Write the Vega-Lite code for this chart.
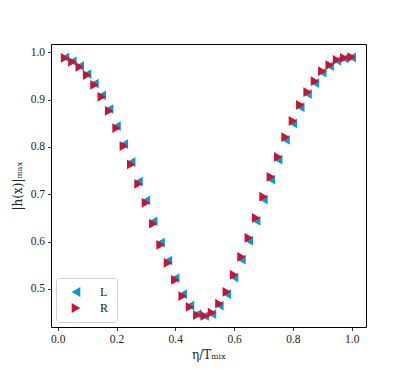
{
  "$schema": "https://vega.github.io/schema/vega-lite/v6.json",
  "autosize": "none",
  "padding": {"left": 51, "top": 44, "right": 41, "bottom": 42},
  "width": 315,
  "height": 283,
  "background": "white",
  "config": {
    "font": "Liberation Serif",
    "view": {"stroke": "black", "strokeWidth": 1},
    "axis": {
      "grid": false,
      "domain": false,
      "tickColor": "black",
      "tickSize": 3.5,
      "tickWidth": 0.8,
      "labelFont": "Liberation Serif",
      "labelFontSize": 11.5,
      "labelColor": "#222",
      "titleFont": "DejaVu Serif",
      "titleFontWeight": "normal",
      "titleFontSize": 12,
      "titleColor": "#222"
    },
    "legend": {"labelFontWeight": "normal", "labelColor": "#222"}
  },
  "data": {
    "values": [
      {"eta": 0.025, "h": 0.989, "side": "L"},
      {"eta": 0.05, "h": 0.981, "side": "L"},
      {"eta": 0.075, "h": 0.971, "side": "L"},
      {"eta": 0.1, "h": 0.954, "side": "L"},
      {"eta": 0.125, "h": 0.934, "side": "L"},
      {"eta": 0.15, "h": 0.909, "side": "L"},
      {"eta": 0.175, "h": 0.880, "side": "L"},
      {"eta": 0.2, "h": 0.844, "side": "L"},
      {"eta": 0.225, "h": 0.806, "side": "L"},
      {"eta": 0.25, "h": 0.768, "side": "L"},
      {"eta": 0.275, "h": 0.727, "side": "L"},
      {"eta": 0.3, "h": 0.687, "side": "L"},
      {"eta": 0.325, "h": 0.643, "side": "L"},
      {"eta": 0.35, "h": 0.598, "side": "L"},
      {"eta": 0.375, "h": 0.560, "side": "L"},
      {"eta": 0.4, "h": 0.523, "side": "L"},
      {"eta": 0.425, "h": 0.489, "side": "L"},
      {"eta": 0.45, "h": 0.465, "side": "L"},
      {"eta": 0.475, "h": 0.447, "side": "L"},
      {"eta": 0.5, "h": 0.443, "side": "L"},
      {"eta": 0.525, "h": 0.447, "side": "L"},
      {"eta": 0.55, "h": 0.465, "side": "L"},
      {"eta": 0.575, "h": 0.489, "side": "L"},
      {"eta": 0.6, "h": 0.524, "side": "L"},
      {"eta": 0.625, "h": 0.562, "side": "L"},
      {"eta": 0.65, "h": 0.602, "side": "L"},
      {"eta": 0.675, "h": 0.644, "side": "L"},
      {"eta": 0.7, "h": 0.689, "side": "L"},
      {"eta": 0.725, "h": 0.731, "side": "L"},
      {"eta": 0.75, "h": 0.773, "side": "L"},
      {"eta": 0.775, "h": 0.815, "side": "L"},
      {"eta": 0.8, "h": 0.850, "side": "L"},
      {"eta": 0.825, "h": 0.884, "side": "L"},
      {"eta": 0.85, "h": 0.912, "side": "L"},
      {"eta": 0.875, "h": 0.935, "side": "L"},
      {"eta": 0.9, "h": 0.957, "side": "L"},
      {"eta": 0.925, "h": 0.971, "side": "L"},
      {"eta": 0.95, "h": 0.982, "side": "L"},
      {"eta": 0.975, "h": 0.987, "side": "L"},
      {"eta": 1.0, "h": 0.989, "side": "L"},
      {"eta": 0.025, "h": 0.988, "side": "R"},
      {"eta": 0.05, "h": 0.980, "side": "R"},
      {"eta": 0.075, "h": 0.969, "side": "R"},
      {"eta": 0.1, "h": 0.952, "side": "R"},
      {"eta": 0.125, "h": 0.931, "side": "R"},
      {"eta": 0.15, "h": 0.906, "side": "R"},
      {"eta": 0.175, "h": 0.876, "side": "R"},
      {"eta": 0.2, "h": 0.840, "side": "R"},
      {"eta": 0.225, "h": 0.802, "side": "R"},
      {"eta": 0.25, "h": 0.763, "side": "R"},
      {"eta": 0.275, "h": 0.722, "side": "R"},
      {"eta": 0.3, "h": 0.682, "side": "R"},
      {"eta": 0.325, "h": 0.638, "side": "R"},
      {"eta": 0.35, "h": 0.593, "side": "R"},
      {"eta": 0.375, "h": 0.555, "side": "R"},
      {"eta": 0.4, "h": 0.519, "side": "R"},
      {"eta": 0.425, "h": 0.485, "side": "R"},
      {"eta": 0.45, "h": 0.462, "side": "R"},
      {"eta": 0.475, "h": 0.445, "side": "R"},
      {"eta": 0.5, "h": 0.443, "side": "R"},
      {"eta": 0.525, "h": 0.450, "side": "R"},
      {"eta": 0.55, "h": 0.469, "side": "R"},
      {"eta": 0.575, "h": 0.494, "side": "R"},
      {"eta": 0.6, "h": 0.530, "side": "R"},
      {"eta": 0.625, "h": 0.568, "side": "R"},
      {"eta": 0.65, "h": 0.608, "side": "R"},
      {"eta": 0.675, "h": 0.650, "side": "R"},
      {"eta": 0.7, "h": 0.695, "side": "R"},
      {"eta": 0.725, "h": 0.737, "side": "R"},
      {"eta": 0.75, "h": 0.779, "side": "R"},
      {"eta": 0.775, "h": 0.821, "side": "R"},
      {"eta": 0.8, "h": 0.855, "side": "R"},
      {"eta": 0.825, "h": 0.889, "side": "R"},
      {"eta": 0.85, "h": 0.916, "side": "R"},
      {"eta": 0.875, "h": 0.939, "side": "R"},
      {"eta": 0.9, "h": 0.960, "side": "R"},
      {"eta": 0.925, "h": 0.973, "side": "R"},
      {"eta": 0.95, "h": 0.984, "side": "R"},
      {"eta": 0.975, "h": 0.988, "side": "R"},
      {"eta": 1.0, "h": 0.990, "side": "R"}
    ]
  },
  "mark": {"type": "point", "filled": true, "opacity": 1, "size": 95},
  "encoding": {
    "x": {
      "field": "eta", "type": "quantitative",
      "scale": {"domain": [-0.0228, 1.0486], "nice": false, "zero": false},
      "axis": {"values": [0, 0.2, 0.4, 0.6, 0.8, 1.0], "format": ".1f", "title": "η/Tₘᵢₓ", "titlePadding": 4, "labelPadding": 3}
    },
    "y": {
      "field": "h", "type": "quantitative",
      "scale": {"domain": [0.4197, 1.0175], "nice": false, "zero": false},
      "axis": {"values": [0.5, 0.6, 0.7, 0.8, 0.9, 1.0], "format": ".1f", "title": "|h(x)|ₘₐₓ", "titlePadding": 6, "labelPadding": 3}
    },
    "color": {
      "field": "side", "type": "nominal",
      "scale": {"domain": ["L", "R"], "range": ["#0A9AD3", "#CB1232"]},
      "legend": {
        "title": null,
        "orient": "bottom-left",
        "offset": 5,
        "padding": 8,
        "cornerRadius": 3,
        "strokeColor": "#d0d0d0",
        "fillColor": "white",
        "labelFont": "Liberation Serif",
        "labelFontSize": 12,
        "labelFontWeight": "normal",
        "labelColor": "#222",
        "labelOffset": 18,
        "symbolSize": 100,
        "symbolOffset": 6,
        "rowPadding": 4
      }
    },
    "shape": {
      "field": "side", "type": "nominal",
      "scale": {"domain": ["L", "R"], "range": ["triangle-left", "triangle-right"]}
    }
  }
}
